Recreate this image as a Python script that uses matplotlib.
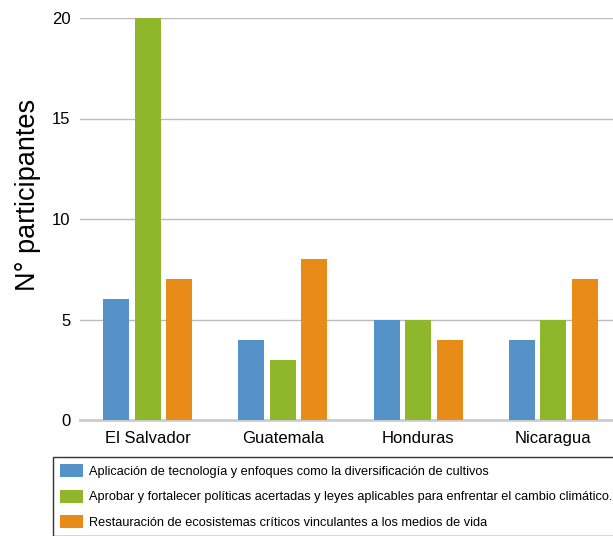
import numpy as np
import matplotlib.pyplot as plt
from matplotlib.patches import Patch

plt.rcParams['font.family'] = ['Liberation Sans', 'DejaVu Sans']

paises = ['El Salvador', 'Guatemala', 'Honduras', 'Nicaragua']
tecnologia = [6, 4, 5, 4]
politicas = [20, 3, 5, 5]
restauracion = [7, 8, 4, 7]
series_labels = [
    'Aplicación de tecnología y enfoques como la diversificación de cultivos',
    'Aprobar y fortalecer políticas acertadas y leyes aplicables para enfrentar el cambio climático.',
    'Restauración de ecosistemas críticos vinculantes a los medios de vida',
]
colores = ['#5592c8', '#8fb72b', '#e88b17']

fig = plt.figure(figsize=(6.13, 5.36), dpi=100)
# axes runs a little past the right edge, like the original
ax = fig.add_axes([80 / 613, 116 / 536, 541 / 613, 402 / 536])

x = np.arange(len(paises))
w = 0.192
step = 0.233
for i, vals in enumerate([tecnologia, politicas, restauracion]):
    ax.bar(x + (i - 1) * step, vals, width=w, color=colores[i], zorder=3)

ax.set_xlim(-0.5, 3.5)
ax.set_ylim(0, 20)
ax.set_yticks([0, 5, 10, 15, 20])
ax.set_xticks(x)
ax.set_xticklabels(paises, fontsize=12)
ax.tick_params(axis='y', labelsize=12, length=0, pad=7)
ax.tick_params(axis='x', length=0, pad=8)
ax.yaxis.grid(True, color='#bbbbbb', linewidth=1, zorder=0)
for s in ['top', 'right', 'left']:
    ax.spines[s].set_visible(False)
ax.spines['bottom'].set_color('#cccccc')
ax.spines['bottom'].set_linewidth(2)
ax.set_ylabel('N° participantes', fontsize=19.5)
ax.yaxis.set_label_coords(-39 / 541, (420 - 195) / 402)

handles = [Patch(facecolor=c) for c in colores]
leg = fig.legend(handles, series_labels, loc='upper left',
                 bbox_to_anchor=(53 / 613, 1 - 457 / 536), fontsize=9.2,
                 frameon=True, fancybox=False, edgecolor='black',
                 handlelength=1.77, handleheight=1.23, handletextpad=0.5,
                 labelspacing=0.9, borderpad=0.55, borderaxespad=0)
leg.get_frame().set_linewidth(1)

fig.savefig('out.png', dpi=100)
